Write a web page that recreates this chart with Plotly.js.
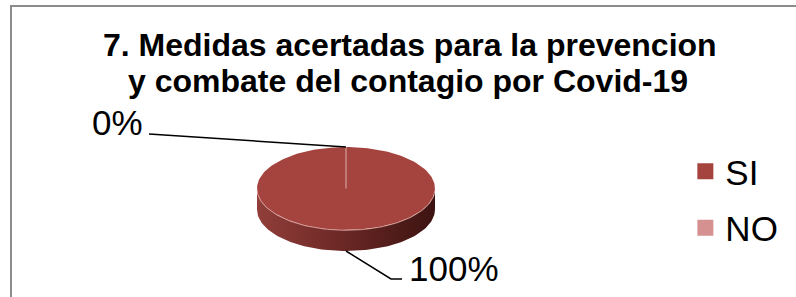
<!DOCTYPE html>
<html>
<head>
<meta charset="utf-8">
<script src="https://cdn.plot.ly/plotly-3.0.1.min.js"></script>
<style>html,body{margin:0;padding:0;background:#fff;}#chart{width:796px;height:297px;}</style>
</head>
<body>
<div id="chart"></div>
<script>
// ---- data ----
const titleLines = ['7. Medidas acertadas para la prevencion', 'y combate del contagio por Covid-19'];
const categories = ['SI', 'NO'];
const values = [100, 0];

// ---- style / geometry ----
const FONT = 'Liberation Sans, Arial, sans-serif';
const sliceColors = ['#A5443F', '#D4918F'];
const sliceLineColors = ['rgba(0,0,0,0)', '#C98783'];
const sideScales = [
  [[0, '#913E3A'], [0.45, '#6E2926'], [1, '#3C1311']],
  [[0, '#C98580'], [1, '#8E5551']]
];
const P = {cx: 346, cy: 188.5, rx: 89, ry: 41.5, depth: 21};
const labelCfg = [
  {path: [[391, 279], [402, 279]], tx: 407, ty: 268, anchor: 'left'},
  {path: [[149, 134]], tx: 145, ty: 122, anchor: 'right'}
];

function pt(theta, dy) {
  const r = theta * Math.PI / 180;
  return [P.cx + P.rx * Math.sin(r), P.cy - P.ry * Math.cos(r) + dy];
}
function arc(t0, t1, dy) {
  const n = Math.max(1, Math.ceil(Math.abs(t1 - t0) / 2));
  const xs = [], ys = [];
  for (let i = 0; i <= n; i++) {
    const p = pt(t0 + (t1 - t0) * i / n, dy);
    xs.push(p[0]); ys.push(p[1]);
  }
  return [xs, ys];
}

const total = values.reduce((a, b) => a + b, 0);
const slices = [];
let acc = 0;
values.forEach((v, i) => {
  const t0 = acc / total * 360;
  acc += v;
  const t1 = acc / total * 360;
  slices.push({i, t0, t1, mid: (t0 + t1) / 2, pct: Math.round(v / total * 100) + '%'});
});

const traces = [];
// side walls (front half only)
slices.forEach(s => {
  const a0 = Math.max(s.t0, 90), a1 = Math.min(s.t1, 270);
  if (a1 <= a0) return;
  const top = arc(a0, a1, 0), bot = arc(a1, a0, P.depth);
  traces.push({
    type: 'scatter', mode: 'lines', x: top[0].concat(bot[0]), y: top[1].concat(bot[1]),
    fill: 'toself', line: {width: 0, color: 'rgba(0,0,0,0)'},
    fillgradient: {type: 'horizontal', colorscale: sideScales[s.i], start: P.cx - P.rx, stop: P.cx + P.rx},
    hoverinfo: 'skip', showlegend: false
  });
});
// top faces
slices.forEach(s => {
  const a = arc(s.t0, s.t1, 0);
  traces.push({
    type: 'scatter', mode: 'lines', x: [P.cx].concat(a[0], [P.cx]), y: [P.cy].concat(a[1], [P.cy]),
    fill: 'toself', fillcolor: sliceColors[s.i],
    line: {width: s.t1 - s.t0 > 0.01 ? 0 : 1.6, color: sliceLineColors[s.i]},
    hoverinfo: 'skip', showlegend: false
  });
});
// rim highlight
const rim = arc(92, 268, 0.3);
traces.push({type: 'scatter', mode: 'lines', x: rim[0], y: rim[1],
  line: {width: 0.8, color: 'rgba(235,190,185,0.9)'}, hoverinfo: 'skip', showlegend: false});

// leader lines + labels
const annotations = [];
slices.forEach(s => {
  const front = s.mid > 90 && s.mid < 270;
  const a = pt(s.mid, front ? P.depth : 0);
  const cfg = labelCfg[s.i];
  traces.push({type: 'scatter', mode: 'lines',
    x: [a[0]].concat(cfg.path.map(p => p[0])), y: [a[1]].concat(cfg.path.map(p => p[1])),
    line: {color: '#000', width: 1.5}, hoverinfo: 'skip', showlegend: false});
  annotations.push({x: cfg.tx, y: cfg.ty, xref: 'x', yref: 'y', text: s.pct, showarrow: false,
    xanchor: cfg.anchor, yanchor: 'middle', font: {family: FONT, size: 35, color: '#000'}});
});

// legend entries
categories.forEach((c, i) => {
  traces.push({type: 'scatter', mode: 'markers', x: [null], y: [null], name: c, legendgroup: c,
    marker: {symbol: 'square', size: 16, color: sliceColors[i], line: {width: 0}}, hoverinfo: 'skip'});
});

// title lines
annotations.push({x: 410, y: 45, xref: 'x', yref: 'y', text: '<b>' + titleLines[0] + '</b>', showarrow: false,
  xanchor: 'center', yanchor: 'middle', font: {family: FONT, size: 32, color: '#000'}});
annotations.push({x: 408, y: 81, xref: 'x', yref: 'y', text: '<b>' + titleLines[1] + '</b>', showarrow: false,
  xanchor: 'center', yanchor: 'middle', font: {family: FONT, size: 32, color: '#000'}});

const layout = {
  width: 796, height: 297,
  margin: {l: 0, r: 0, t: 0, b: 0},
  paper_bgcolor: '#fff', plot_bgcolor: '#fff',
  xaxis: {range: [0, 796], visible: false, fixedrange: true},
  yaxis: {range: [297, 0], visible: false, fixedrange: true},
  showlegend: true,
  legend: {x: 0.861, xanchor: 'left', y: 0.522, yanchor: 'top', font: {family: FONT, size: 35, color: '#000'},
    traceorder: 'grouped', tracegroupgap: 8, bgcolor: 'rgba(0,0,0,0)', itemsizing: 'trace'},
  annotations: annotations,
  shapes: [{type: 'path', xref: 'x', yref: 'y', path: 'M11,297 L11,6 L796,6',
    line: {color: '#8C8C8C', width: 2}}]
};

Plotly.newPlot('chart', traces, layout, {staticPlot: true, displayModeBar: false});
</script>
</body>
</html>
